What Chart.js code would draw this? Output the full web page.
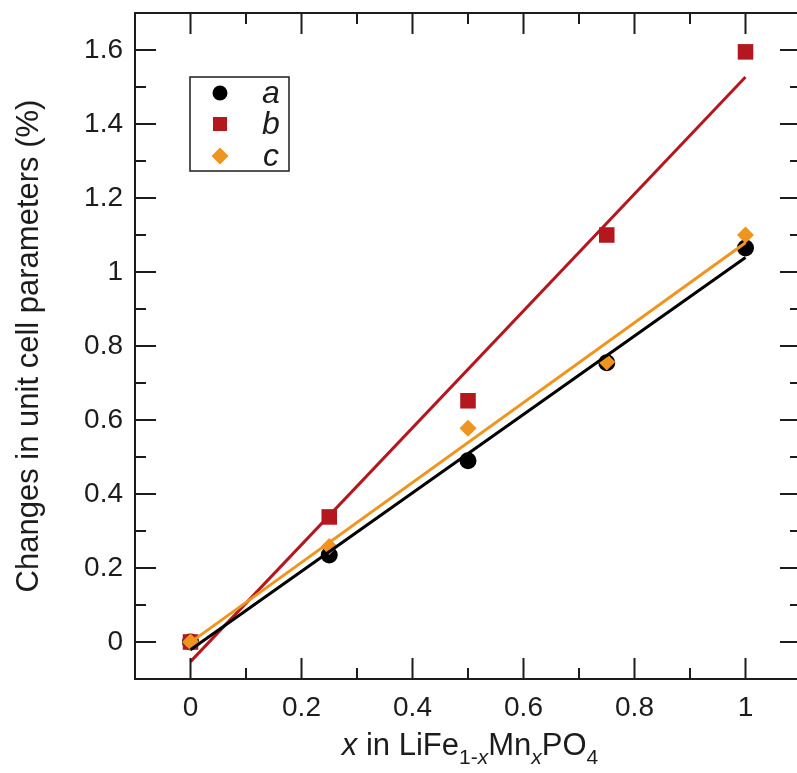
<!DOCTYPE html>
<html><head><meta charset="utf-8">
<script src="https://cdn.jsdelivr.net/npm/chart.js@4/dist/chart.umd.min.js"></script>
<style>html,body{margin:0;padding:0;overflow:hidden;background:#fff}#wrap{width:812px;height:773px;position:relative;overflow:hidden}canvas{display:block;position:absolute;left:0;top:2px}</style>
</head><body><div id="wrap"><canvas id="c" width="812" height="771"></canvas></div>
<script>
// ---- data ----
const xValues = [0, 0.25, 0.5, 0.75, 1];
const seriesA = [0, 0.235, 0.49, 0.755, 1.065];
const seriesB = [0, 0.338, 0.652, 1.10, 1.595];
const seriesC = [0, 0.258, 0.578, 0.757, 1.10];
const fitX = [0, 1];
const fitA = [-0.021, 1.039];
const fitB = [-0.053, 1.527];
const fitC = [-0.001, 1.079];
const seriesNames = ['a', 'b', 'c'];
const xTickLabels = ['0', '0.2', '0.4', '0.6', '0.8', '1'];
const yTickLabels = ['0', '0.2', '0.4', '0.6', '0.8', '1', '1.2', '1.4', '1.6'];
const xMinorTicks = [0.1, 0.3, 0.5, 0.7, 0.9];
const yMinorTicks = [0.1, 0.3, 0.5, 0.7, 0.9, 1.1, 1.3, 1.5];
const yTitle = 'Changes in unit cell parameters (%)';

const FONT = '"Liberation Sans", Arial, Helvetica, sans-serif';
const INK = '#1c1c1c';
const RED = '#b5171f';
const ORANGE = '#ef951f';
const BLACK = '#000000';
const OFF = 2; // canvas is placed 2px below the page top

const pts = (xs, ys) => xs.map((x, i) => ({x: x, y: ys[i]}));
const labelFor = (labels) => (v) => {
  const l = labels.find(s => Math.abs(parseFloat(s) - v) < 1e-9);
  return l === undefined ? '' : l;
};

const framePlugin = {
  id: 'frame',
  afterDraw(chart) {
    const ctx = chart.ctx, a = chart.chartArea;
    const xs = chart.scales.x, ys = chart.scales.y;
    ctx.save();
    ctx.strokeStyle = INK;
    ctx.lineWidth = 2;
    ctx.strokeRect(a.left, a.top, a.right - a.left, a.bottom - a.top);
    const MAJ = 21, MIN = 11;
    ctx.beginPath();
    xTickLabels.map(parseFloat).forEach(v => {
      const p = xs.getPixelForValue(v);
      ctx.moveTo(p, a.bottom); ctx.lineTo(p, a.bottom - MAJ);
      ctx.moveTo(p, a.top); ctx.lineTo(p, a.top + MAJ);
    });
    xMinorTicks.forEach(v => {
      const p = xs.getPixelForValue(v);
      ctx.moveTo(p, a.bottom); ctx.lineTo(p, a.bottom - MIN);
      ctx.moveTo(p, a.top); ctx.lineTo(p, a.top + MIN);
    });
    yTickLabels.map(parseFloat).forEach(v => {
      const p = ys.getPixelForValue(v);
      ctx.moveTo(a.left, p); ctx.lineTo(a.left + MAJ, p);
      ctx.moveTo(a.right, p); ctx.lineTo(a.right - MAJ, p);
    });
    yMinorTicks.forEach(v => {
      const p = ys.getPixelForValue(v);
      ctx.moveTo(a.left, p); ctx.lineTo(a.left + MIN, p);
      ctx.moveTo(a.right, p); ctx.lineTo(a.right - MIN, p);
    });
    ctx.stroke();

    // y-axis title
    ctx.fillStyle = INK;
    ctx.font = '31px ' + FONT;
    ctx.textAlign = 'center';
    ctx.textBaseline = 'middle';
    ctx.save();
    ctx.translate(29, (a.top + a.bottom) / 2);
    ctx.rotate(-Math.PI / 2);
    ctx.fillText(yTitle, 0, 0);
    ctx.restore();

    // x-axis title with subscripts
    const parts = [
      {t: 'x', it: true}, {t: ' in LiFe'}, {t: '1-', sub: true}, {t: 'x', sub: true, it: true},
      {t: 'Mn'}, {t: 'x', sub: true, it: true}, {t: 'PO'}, {t: '4', sub: true}
    ];
    const fontOf = p => (p.it ? 'italic ' : '') + (p.sub ? '21px ' : '31px ') + FONT;
    let total = 0;
    parts.forEach(p => { ctx.font = fontOf(p); p.w = ctx.measureText(p.t).width; total += p.w; });
    let x = (a.left + a.right) / 2 - total / 2 + 2;
    const base = 755 - OFF;
    ctx.textAlign = 'left';
    ctx.textBaseline = 'alphabetic';
    parts.forEach(p => { ctx.font = fontOf(p); ctx.fillText(p.t, x, base + (p.sub ? 9 : 0)); x += p.w; });

    // legend
    const L = {left: 190, top: 77 - OFF, right: 289, bottom: 171 - OFF};
    ctx.lineWidth = 1.5;
    ctx.strokeStyle = INK;
    ctx.strokeRect(L.left, L.top, L.right - L.left, L.bottom - L.top);
    const rows = [93 - OFF, 124 - OFF, 156 - OFF];
    const mx = 220;
    ctx.fillStyle = BLACK;
    ctx.beginPath(); ctx.arc(mx, rows[0], 7.5, 0, Math.PI * 2); ctx.fill();
    ctx.fillStyle = RED;
    ctx.fillRect(mx - 7, rows[1] - 7, 14, 14);
    ctx.fillStyle = ORANGE;
    ctx.beginPath();
    ctx.moveTo(mx - 8.5, rows[2]); ctx.lineTo(mx, rows[2] - 8.5); ctx.lineTo(mx + 8.5, rows[2]); ctx.lineTo(mx, rows[2] + 8.5);
    ctx.closePath(); ctx.fill();
    ctx.fillStyle = INK;
    ctx.font = 'italic 32px ' + FONT;
    ctx.textAlign = 'center';
    ctx.textBaseline = 'alphabetic';
    seriesNames.forEach((n, i) => ctx.fillText(n, 271, rows[i] + 10));
    ctx.restore();
  }
};

new Chart(document.getElementById('c'), {
  type: 'scatter',
  data: {
    datasets: [
      {label: seriesNames[0], data: pts(xValues, seriesA), pointStyle: 'circle', pointRadius: 8.5, backgroundColor: BLACK, borderColor: BLACK, borderWidth: 0, order: 10},
      {label: seriesNames[1], data: pts(xValues, seriesB), pointStyle: 'rect', pointRadius: 11, backgroundColor: RED, borderColor: RED, borderWidth: 0, order: 9},
      {label: seriesNames[2], data: pts(xValues, seriesC), pointStyle: 'rectRot', pointRadius: 8.5, backgroundColor: ORANGE, borderColor: ORANGE, borderWidth: 0, order: 8},
      {label: 'fit b', type: 'line', data: pts(fitX, fitB), borderColor: RED, borderWidth: 3, pointRadius: 0, fill: false, order: 3},
      {label: 'fit c', type: 'line', data: pts(fitX, fitC), borderColor: ORANGE, borderWidth: 3, pointRadius: 0, fill: false, order: 2},
      {label: 'fit a', type: 'line', data: pts(fitX, fitA), borderColor: BLACK, borderWidth: 3, pointRadius: 0, fill: false, order: 1}
    ]
  },
  options: {
    responsive: false,
    animation: false,
    devicePixelRatio: 1,
    layout: {padding: {top: 0, right: 11, left: 0, bottom: 0}},
    plugins: {legend: {display: false}, tooltip: {enabled: false}},
    scales: {
      x: {
        type: 'linear', min: -0.1, max: 1.1,
        grid: {display: false, drawTicks: false}, border: {display: false},
        afterBuildTicks: s => { s.ticks = xTickLabels.map(l => ({value: parseFloat(l)})); },
        afterFit: s => { s.height = 94; },
        ticks: {callback: labelFor(xTickLabels), font: {family: FONT, size: 28}, color: INK, padding: 12, maxRotation: 0, autoSkip: false}
      },
      y: {
        type: 'linear', min: -0.1, max: 1.7,
        grid: {display: false, drawTicks: false}, border: {display: false},
        afterBuildTicks: s => { s.ticks = yTickLabels.map(l => ({value: parseFloat(l)})); },
        afterFit: s => { s.width = 135; s.paddingTop = 0; },
        ticks: {callback: labelFor(yTickLabels), font: {family: FONT, size: 28}, color: INK, padding: 12, autoSkip: false}
      }
    }
  },
  plugins: [framePlugin]
});
</script>
</body></html>
